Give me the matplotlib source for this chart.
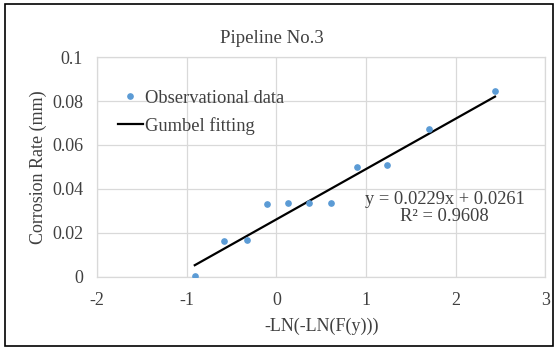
import matplotlib.pyplot as plt
from matplotlib.patches import Rectangle

plt.rcParams['font.family'] = ['Liberation Serif', 'DejaVu Serif']
plt.rcParams['axes.unicode_minus'] = False

# data
gumbel_x = [-0.91, -0.58, -0.33, -0.10, 0.13, 0.36, 0.61, 0.90, 1.24, 1.70, 2.44]
corrosion = [0.0005, 0.0163, 0.0168, 0.0331, 0.0335, 0.0335, 0.0335, 0.0502, 0.0507, 0.0671, 0.0845]

fit_x = [-0.91, 2.44]
fit_y = [0.0053, 0.0820]

x_ticks = [-2, -1, 0, 1, 2, 3]
y_ticks = [0, 0.02, 0.04, 0.06, 0.08, 0.1]
y_tick_labels = ['0', '0.02', '0.04', '0.06', '0.08', '0.1']

grid_col = '#d9d9d9'
text_col = '#404040'

fig = plt.figure(figsize=(5.58, 3.5), dpi=100)
ax = fig.add_axes([0.174, 0.209, 0.803, 0.628])

ax.plot(gumbel_x, corrosion, 'o', color='#5b9bd5', markersize=3.8,
        label='Observational data', zorder=3)
ax.plot(fit_x, fit_y, color='black', linewidth=1.6, label='Gumbel fitting', zorder=2)

ax.set_xlim(-2, 3)
ax.set_ylim(0, 0.1)
ax.set_xticks(x_ticks)
ax.set_yticks(y_ticks)
ax.set_yticklabels(y_tick_labels)
ax.grid(True, color=grid_col, linewidth=0.9)
ax.set_axisbelow(True)
for s in ax.spines.values():
    s.set_color(grid_col)
    s.set_linewidth(0.9)
ax.tick_params(length=0, labelsize=13, colors=text_col)
ax.tick_params(axis='x', pad=11)
ax.tick_params(axis='y', pad=10)

ax.set_xlabel('-LN(-LN(F(y)))', fontsize=13, color=text_col, labelpad=6)
ax.set_ylabel('Corrosion Rate (mm)', fontsize=13, color=text_col, labelpad=4)

leg = ax.legend(loc='upper left', bbox_to_anchor=(0.03, 0.885), frameon=False,
                fontsize=13.3, handlelength=1.35, handletextpad=0.12,
                labelspacing=0.55, borderaxespad=0.0)
for t in leg.get_texts():
    t.set_color(text_col)

ax.text(1.88, 0.0312, 'y = 0.0229x + 0.0261\nR² = 0.9608', ha='center', va='center',
        fontsize=13.3, color=text_col, linespacing=1.0)

fig.text(0.487, 0.89, 'Pipeline No.3', ha='center', va='center', fontsize=13.5, color=text_col)

fig.patches.append(Rectangle((0.009, 0.012), 0.982, 0.976, transform=fig.transFigure,
                             fill=False, edgecolor='black', linewidth=1.2))

fig.savefig('out.png', dpi=100)
